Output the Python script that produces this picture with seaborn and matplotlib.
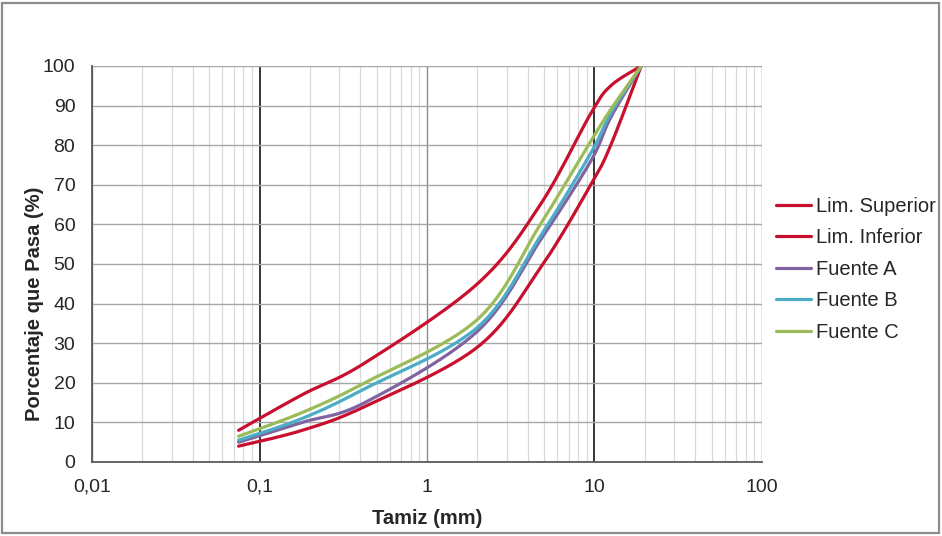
import numpy as np
import matplotlib
matplotlib.use("Agg")
import matplotlib.pyplot as plt
import seaborn as sns
from matplotlib.patches import Rectangle
from matplotlib.ticker import FixedLocator, LogLocator, NullFormatter

# tamices (mm) y porcentaje que pasa
tamices = [19, 12.5, 9.5, 4.75, 2.0, 0.425, 0.18, 0.075]
lim_superior = [100, 95, 88, 65, 45, 25, 17, 8]
lim_inferior = [100, 80, 70, 49, 29, 14, 8, 4]
fuente_a = [100, 87, 76, 56, 33, 15, 10, 5]
fuente_b = [100, 88, 78, 57, 34, 18.5, 11, 5.5]
fuente_c = [100, 89, 81, 60, 36, 20, 12.5, 6.5]

series_names = ["Lim. Superior", "Lim. Inferior", "Fuente A", "Fuente B", "Fuente C"]
series_values = [lim_superior, lim_inferior, fuente_a, fuente_b, fuente_c]
colors = ["#C8102E", "#C8102E", "#8064A2", "#4BACC6", "#9BBB59"]

x_ticks = [0.01, 0.1, 1, 10, 100]
x_tick_labels = ["0,01", "0,1", "1", "10", "100"]


def excel_smooth(x, y, n=30):
    # curva "suavizada" tipo Excel (Bezier con tangentes Catmull-Rom) en espacio log-x
    u = np.log10(np.asarray(x, dtype=float))
    v = np.asarray(y, dtype=float)
    order = np.argsort(u)
    u, v = u[order], v[order]
    pts = np.column_stack([u, v])
    padded = np.vstack([pts[0], pts, pts[-1]])
    out = []
    t = np.linspace(0, 1, n)[:, None]
    for i in range(len(pts) - 1):
        p0, p1, p2, p3 = padded[i], padded[i + 1], padded[i + 2], padded[i + 3]
        c1 = p1 + (p2 - p0) / 6
        c2 = p2 - (p3 - p1) / 6
        seg = ((1 - t) ** 3) * p1 + 3 * ((1 - t) ** 2) * t * c1 + 3 * (1 - t) * t ** 2 * c2 + t ** 3 * p2
        out.append(seg if i == 0 else seg[1:])
    curve = np.vstack(out)
    return 10 ** curve[:, 0], curve[:, 1]


sns.set_style("white")
plt.rcParams["font.family"] = ["Liberation Sans", "DejaVu Sans"]

fig = plt.figure(figsize=(9.42, 5.36), dpi=100)
ax = fig.add_axes([92 / 942, 74 / 536, 670 / 942, 396 / 536])

for name, vals, col in zip(series_names, series_values, colors):
    xs, ys = excel_smooth(tamices, vals)
    sns.lineplot(x=xs, y=ys, ax=ax, color=col, linewidth=2.3, sort=False,
                 estimator=None, label=name)

ax.set_xscale("log")
ax.set_xlim(0.01, 100)
ax.set_ylim(0, 100)
ax.xaxis.set_major_locator(FixedLocator(x_ticks))
ax.set_xticklabels(x_tick_labels)
ax.xaxis.set_minor_locator(LogLocator(base=10, subs=np.arange(2, 10)))
ax.xaxis.set_minor_formatter(NullFormatter())
ax.set_yticks(np.arange(0, 101, 10))

ax.grid(True, which="minor", axis="x", color="#d9d9d9", linewidth=0.9)
ax.grid(True, which="major", axis="x", color="#8c8c8c", linewidth=1.0)
ax.grid(True, which="major", axis="y", color="#a6a6a6", linewidth=1.0)
for tick in ax.xaxis.get_major_ticks():
    if tick.get_loc() in (0.1, 10):
        tick.gridline.set_color("#262626")
        tick.gridline.set_linewidth(1.3)
ax.set_axisbelow(True)

for side in ["top", "right"]:
    ax.spines[side].set_visible(False)
ax.spines["left"].set_color("#595959")
ax.spines["left"].set_linewidth(1.3)
ax.spines["bottom"].set_color("#595959")
ax.spines["bottom"].set_linewidth(1.3)

ax.tick_params(axis="x", which="both", length=0, pad=12, labelsize=14)
ax.tick_params(axis="y", which="major", length=3, pad=9, labelsize=14, colors="#404040")
for lbl in ax.get_xticklabels() + ax.get_yticklabels():
    lbl.set_color("#262626")

ax.set_xlabel("Tamiz (mm)", fontsize=14.5, fontweight="bold", color="#262626")
ax.set_ylabel("Porcentaje que Pasa (%)", fontsize=14.5, fontweight="bold", color="#262626")
ax.xaxis.set_label_coords(0.5, -0.118)
ax.yaxis.set_label_coords(-0.071, 0.40)

ax.legend(loc="upper left", bbox_to_anchor=(776 / 942, 1 - 197 / 536),
          bbox_transform=fig.transFigure, frameon=False, fontsize=14.5,
          handlelength=1.75, handletextpad=0.25, labelspacing=0.62, borderaxespad=0,
          borderpad=0, labelcolor="#262626")

fig.patches.append(Rectangle((0.002, 0.006), 0.995, 0.988, transform=fig.transFigure,
                             fill=False, edgecolor="#8c8c8c", linewidth=1.6))

fig.savefig("out.png", dpi=100)
